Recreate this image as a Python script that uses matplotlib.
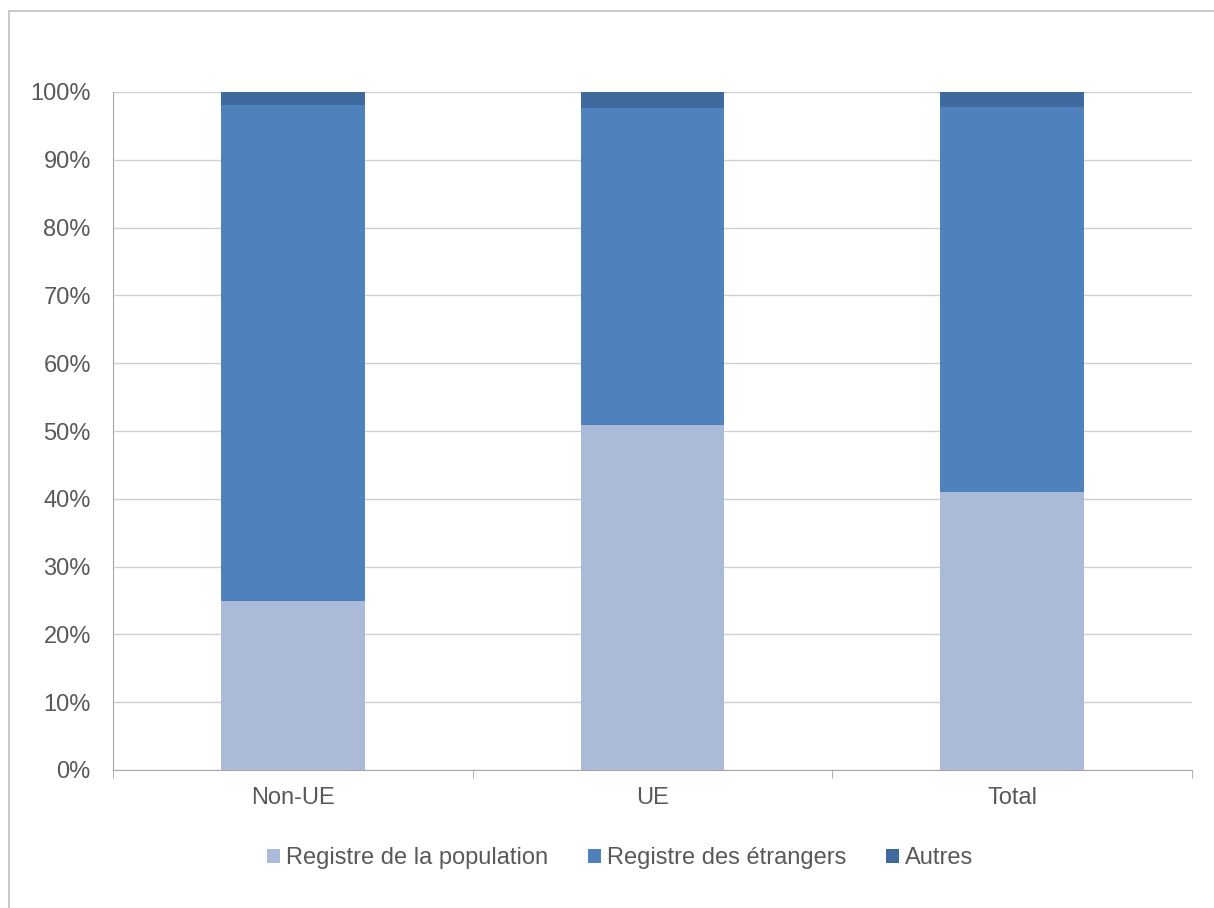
import numpy as np
import matplotlib.pyplot as plt
from matplotlib.patches import Rectangle

categories = ['Non-UE', 'UE', 'Total']
series_names = ['Registre de la population', 'Registre des étrangers', 'Autres']
population = [25.0, 50.9, 41.0]
etrangers = [73.1, 46.7, 56.8]
autres = [1.9, 2.4, 2.2]

colors = ['#AABAD7', '#4F81BD', '#3E6A9E']
text_col = '#595959'
fs = 17

plt.rcParams['font.family'] = ['Liberation Sans', 'DejaVu Sans']

fig = plt.figure(figsize=(12.14, 9.08), dpi=100)
ax = fig.add_axes([113 / 1214, 138 / 908, 1079 / 1214, 678 / 908])

# cadre autour du graphique
fig.patches.append(Rectangle((9 / 1214, -0.1), 1.2, (908 - 11) / 908 + 0.1,
                             transform=fig.transFigure, fill=False,
                             edgecolor='#BFBFBF', linewidth=1.2))

x = np.arange(len(categories))
bottom = np.zeros(len(categories))
for vals, name, c in zip([population, etrangers, autres], series_names, colors):
    ax.bar(x, vals, 0.4, bottom=bottom, color=c, label=name, zorder=3)
    bottom += np.array(vals)

ax.set_xlim(-0.5, 2.5)
ax.set_ylim(0, 100)
ax.set_yticks(np.arange(0, 101, 10))
ax.set_yticklabels([f'{v}%' for v in range(0, 101, 10)])
ax.yaxis.grid(True, color='#D0D0D0', linewidth=1, zorder=0)

ax.set_xticks(x)
ax.set_xticklabels(categories)
ax.set_xticks([-0.5, 0.5, 1.5, 2.5], minor=True)
ax.tick_params(axis='x', which='major', length=0, pad=12, labelsize=fs, labelcolor=text_col)
ax.tick_params(axis='x', which='minor', length=6, color='#A6A6A6', direction='out')
ax.tick_params(axis='y', length=0, pad=16, labelsize=fs, labelcolor=text_col)

for s in ['top', 'right']:
    ax.spines[s].set_visible(False)
for s in ['left', 'bottom']:
    ax.spines[s].set_color('#A6A6A6')

fig.legend(loc='center', bbox_to_anchor=(620 / 1214, 50 / 908), ncol=3, frameon=False,
           fontsize=fs, handlelength=0.55, handleheight=0.55, handletextpad=0.25,
           columnspacing=1.7, labelcolor=text_col)

fig.savefig('out.png', dpi=100)
